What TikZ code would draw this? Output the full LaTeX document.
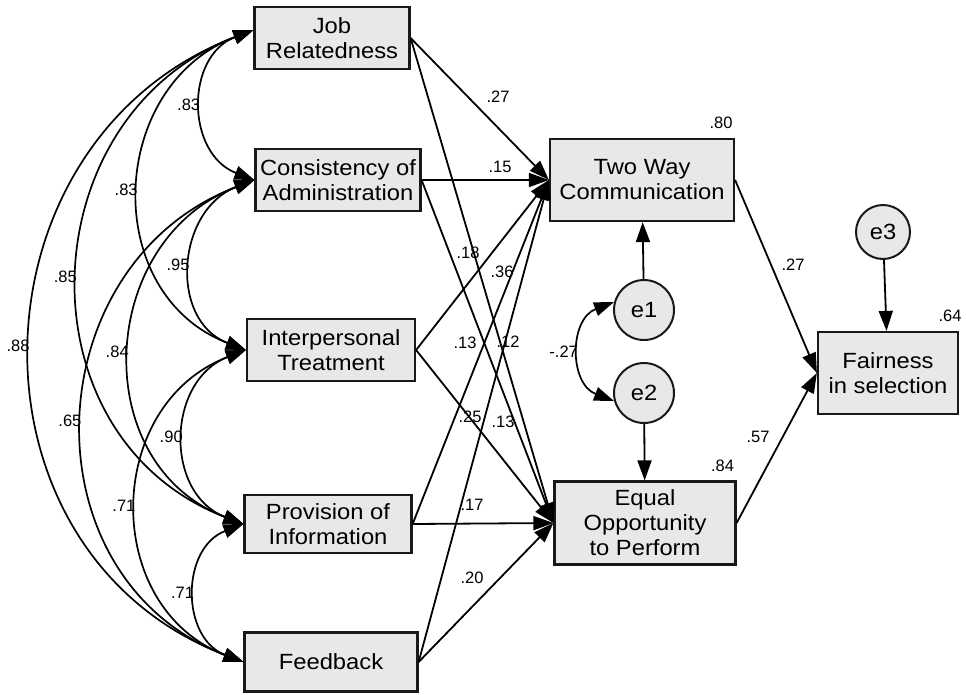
\documentclass[tikz,border=0pt]{standalone}
\usepackage{fontspec}
\setmainfont{Liberation Sans}
\newfontfamily\boxfont[FakeStretch=1.08]{Liberation Sans}
\usetikzlibrary{arrows.meta}
\definecolor{boxgray}{RGB}{232,232,232}

\begin{document}
\begin{tikzpicture}[x=1pt, y=1pt,
    obs/.style={draw=black!90, fill=boxgray, line width=2.2pt, align=center, minimum height=62pt, inner sep=2pt, font=\boxfont\fontsize{22}{25}\selectfont},
    err/.style={circle, draw=black!90, fill=boxgray, line width=2pt, inner sep=0pt, font=\boxfont\fontsize{22}{25}\selectfont},
    reg/.style={-{Triangle[length=20pt,width=14pt]}, line width=1.8pt},
    cov/.style={{Triangle[length=20pt,width=14pt]}-{Triangle[length=20pt,width=14pt]}, line width=1.7pt, out=201, in=159, looseness=1.25},
    lab/.style={font=\fontsize{16.5}{18}\selectfont, inner sep=1.5pt}
  ]
    \useasboundingbox (0,0) rectangle (966,-694);

    % observed variables
    \node[obs, minimum width=155pt] (jr) at (332,-38) {Job\\Relatedness};
    \node[obs, minimum width=165pt] (ca) at (338,-180) {Consistency of\\Administration};
    \node[obs, minimum width=168pt] (it) at (331,-350) {Interpersonal\\Treatment};
    \node[obs, minimum width=167pt, minimum height=58pt] (pi) at (328,-524) {Provision of\\Information};
    \node[obs, minimum width=173pt, minimum height=59pt] (fb) at (331,-662) {Feedback};
    \node[obs, minimum width=184pt, minimum height=82pt] (tw) at (642,-180) {Two Way\\Communication};
    \node[obs, minimum width=181pt, minimum height=83pt] (eo) at (645,-523) {Equal\\Opportunity\\to Perform};
    \node[obs, minimum width=140pt, minimum height=82pt] (fs) at (888,-373) {Fairness\\in selection};

    % errors
    \node[err, minimum size=60pt] (e1) at (644,-310) {e1};
    \node[err, minimum size=60pt] (e2) at (644,-393) {e2};
    \node[err, minimum size=54pt] (e3) at (883,-232) {e3};

    % correlations
    \coordinate (jrl) at ([yshift=8pt]jr.west);
    \draw[cov] (jrl) to node[lab, left] {.83} (ca.west);
    \draw[cov] (jrl) to node[lab, left] {.83} (it.west);
    \draw[cov] (jrl) to node[lab, left] {.85} (pi.west);
    \draw[cov] (jrl) to node[lab, left] {.88} (fb.west);
    \draw[cov] (ca.west) to node[lab, left] {.95} (it.west);
    \draw[cov] (ca.west) to node[lab, left] {.84} (pi.west);
    \draw[cov] (ca.west) to node[lab, left] {.65} (fb.west);
    \draw[cov] (it.west) to node[lab, left] {.90} (pi.west);
    \draw[cov] (it.west) to node[lab, left] {.71} (fb.west);
    \draw[cov] (pi.west) to node[lab, left] {.71} (fb.west);
    \draw[cov] (e1.165) to node[lab, left] {-.27} (e2.195);

    % regressions
    \draw[reg] (jr.east) -- (tw.west);
    \draw[reg] (ca.east) -- (tw.west);
    \draw[reg] (it.east) -- (tw.west);
    \draw[reg] (pi.east) -- (tw.west);
    \draw[reg] (fb.east) -- (tw.west);
    \draw[reg] (jr.east) -- (eo.west);
    \draw[reg] (ca.east) -- (eo.west);
    \draw[reg] (it.east) -- (eo.west);
    \draw[reg] (pi.east) -- (eo.west);
    \draw[reg] (fb.east) -- (eo.west);
    \draw[reg] (tw.east) -- (fs.west);
    \draw[reg] (eo.east) -- (fs.west);
    \draw[reg] (e1) -- (tw);
    \draw[reg] (e2) -- (eo);
    \draw[reg] (e3) -- (fs);

    % weights
    \node[lab] (w1) at (498,-97) {.27};
    \node[lab] (w2) at (500,-167) {.15};
    \node[lab] (w3) at (468,-253) {.18};
    \node[lab] (w4) at (502,-272) {.36};
    \node[lab] (w5) at (465,-343) {.13};
    \node[lab] (w6) at (508,-342) {.12};
    \node[lab] (w7) at (470,-417) {.25};
    \node[lab] (w8) at (503,-422) {.13};
    \node[lab] (w9) at (472,-505) {.17};
    \node[lab] (w10) at (472,-578) {.20};
    \node[lab] (w11) at (793,-265) {.27};
    \node[lab] (w12) at (758,-437) {.57};

    % squared multiple correlations
    \node[lab] (r1) at ([xshift=-14pt, yshift=15pt]tw.north east) {.80};
    \node[lab] (r2) at ([xshift=-14pt, yshift=15pt]eo.north east) {.84};
    \node[lab] (r3) at ([xshift=-9pt, yshift=15pt]fs.north east) {.64};
  \end{tikzpicture}
\end{document}
